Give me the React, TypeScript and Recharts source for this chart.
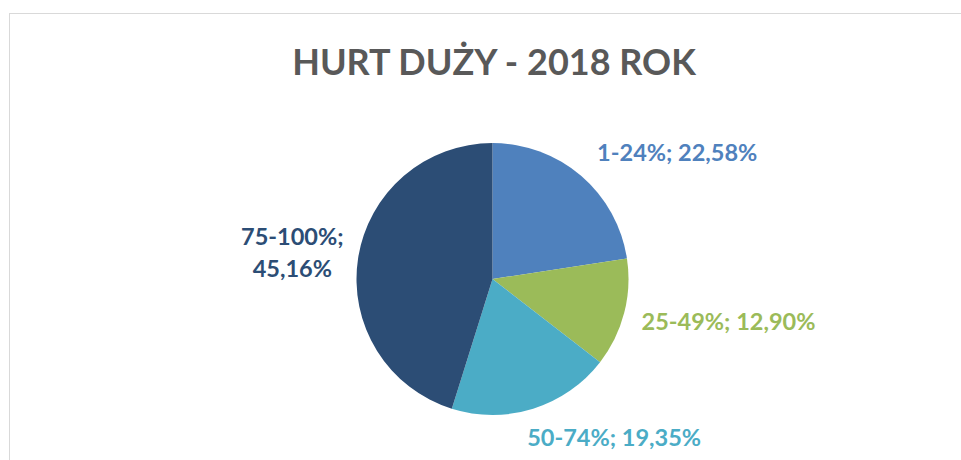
import { PieChart, Pie, Cell } from "recharts";

const categories = ["1-24%", "25-49%", "50-74%", "75-100%"];
const shares = [22.58, 12.9, 19.35, 45.16];
const colors = ["#4F81BD", "#9BBB59", "#4BACC6", "#2C4D75"];

const data = categories.map((name, i) => ({ name, value: shares[i] }));

// label nudges from the radial anchor point (Excel "best fit" placement)
const labelNudge = [
  { dx: 3, dy: -9, anchor: "start", wrap: false },
  { dx: -2, dy: 3, anchor: "start", wrap: false },
  { dx: -12, dy: 9, anchor: "start", wrap: false },
  { dx: -46, dy: -3, anchor: "middle", wrap: true },
];

const RAD = Math.PI / 180;
const FONT = "Lato, 'Open Sans', sans-serif";

function renderLabel(props: any) {
  const { cx, cy, midAngle, outerRadius, index, name, value } = props;
  const r = outerRadius + 20;
  const x = cx + r * Math.cos(-midAngle * RAD);
  const y = cy + r * Math.sin(-midAngle * RAD);
  const n = labelNudge[index];
  const pct = value.toFixed(2).replace(".", ",") + "%";
  const common = {
    fill: colors[index],
    fontFamily: FONT,
    fontWeight: 700,
    fontSize: 23.5,
    textAnchor: n.anchor as any,
    dominantBaseline: "central" as any,
  };
  if (n.wrap) {
    return (
      <text x={x + n.dx} y={y + n.dy} {...common}>
        <tspan x={x + n.dx} dy={-16}>{name};</tspan>
        <tspan x={x + n.dx} dy={32}>{pct}</tspan>
      </text>
    );
  }
  return (
    <text x={x + n.dx} y={y + n.dy} {...common}>
      {`${name}; ${pct}`}
    </text>
  );
}

export default function App() {
  return (
    <div
      style={{
        position: "fixed",
        left: 0,
        top: 0,
        width: 961,
        height: 460,
        background: "#fff",
        overflow: "hidden",
      }}
    >
      <div
        style={{
          position: "absolute",
          left: 9,
          top: 13,
          width: 1000,
          height: 500,
          border: "1px solid #d9d9d9",
        }}
      />
      <svg
        width={961}
        height={100}
        style={{ position: "absolute", left: 0, top: 0 }}
      >
        <text
          x={494}
          y={75}
          textAnchor="middle"
          fill="#595959"
          fontFamily={FONT}
          fontWeight={700}
          fontSize={36}
        >
          HURT DUŻY - 2018 ROK
        </text>
      </svg>
      <div style={{ position: "absolute", left: 0, top: 0 }}>
        <PieChart
          width={961}
          height={460}
          margin={{ top: 0, right: 0, bottom: 0, left: 0 }}
        >
          <Pie
            data={data}
            dataKey="value"
            nameKey="name"
            cx={492.5}
            cy={279}
            outerRadius={136}
            startAngle={90}
            endAngle={-270}
            stroke="none"
            label={renderLabel}
            labelLine={false}
            isAnimationActive={false}
          >
            {data.map((d, i) => (
              <Cell key={d.name} fill={colors[i]} />
            ))}
          </Pie>
        </PieChart>
      </div>
    </div>
  );
}
